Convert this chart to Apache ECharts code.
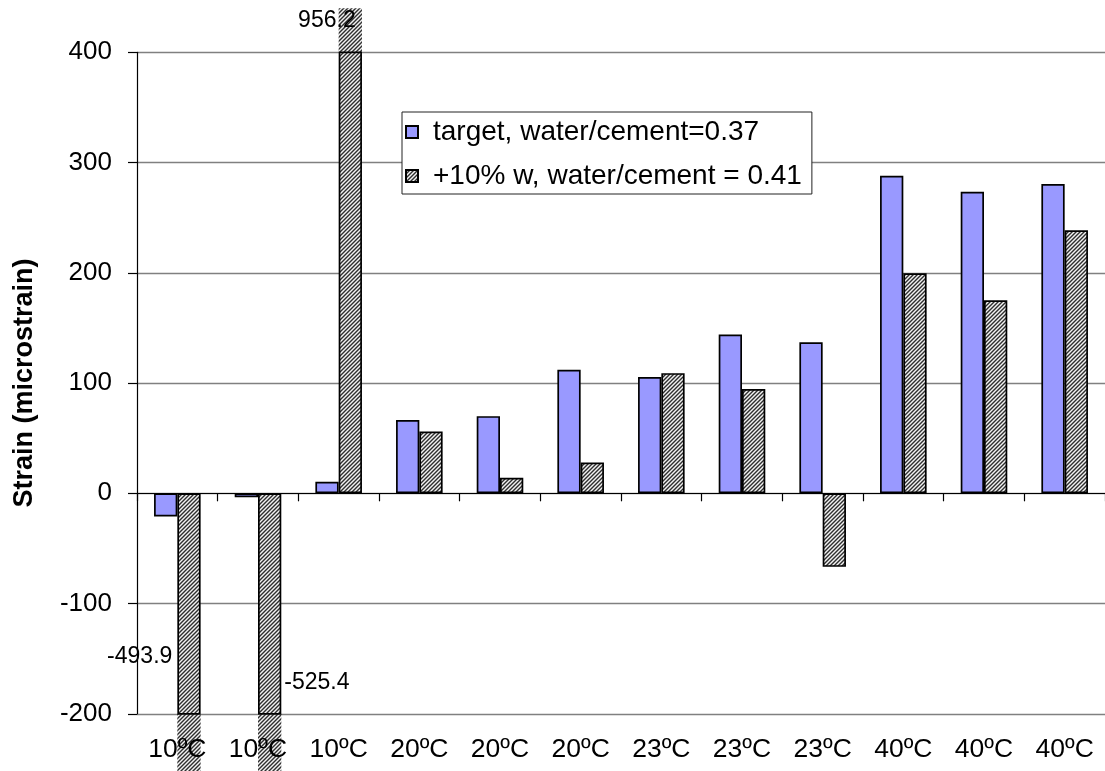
<!DOCTYPE html>
<html>
<head>
<meta charset="utf-8">
<title>Strain by curing temperature</title>
<script src="https://cdn.jsdelivr.net/npm/echarts@6/dist/echarts.min.js"></script>
<style>
  html, body { margin: 0; padding: 0; background: #ffffff; }
  #chart { width: 1105px; height: 771px; }
</style>
</head>
<body>
<div id="chart"></div>
<script>
// Curing temperature of each specimen
const categories = ['10ºC', '10ºC', '10ºC', '20ºC', '20ºC', '20ºC',
                    '23ºC', '23ºC', '23ºC', '40ºC', '40ºC', '40ºC'];

// Strain (microstrain), mix at target water/cement ratio
const targetStrain = [-21, -3.6, 10.5, 66.5, 70, 112, 105.5, 144, 137, 288, 273.5, 280.5];

// Strain (microstrain), mix with +10% water
const wetStrain = [-493.9, -525.4, 956.2, 56, 14, 28, 109, 94.5, -66.7, 199.5, 175, 238.5];

const seriesNames = ['target, water/cement=0.37', '+10% w, water/cement = 0.41'];

// Value axis range and step
const yMin = -200;
const yMax = 400;
const yStep = 100;

const FONT = '"Liberation Sans", Arial, sans-serif';
const BAR_WIDTH = 23.3;

// Diagonal "////" hatch used for the +10% water series
function makeHatch() {
  const c = document.createElement('canvas');
  c.width = 4; c.height = 4;
  const g = c.getContext('2d');
  g.fillStyle = '#f2f2f2';
  g.fillRect(0, 0, 4, 4);
  g.strokeStyle = '#2e2e2e';
  g.lineWidth = 1.4;
  g.beginPath();
  g.moveTo(0, 4); g.lineTo(4, 0);
  g.moveTo(-1, 1); g.lineTo(1, -1);
  g.moveTo(3, 5); g.lineTo(5, 3);
  g.stroke();
  return { image: c, repeat: 'repeat' };
}
const hatch = makeHatch();

// Where the value label of a bar running past the axis range sits
const overflowLabelPlacement = {
  0: { side: 'left', dy: -57 },
  1: { side: 'right', dy: -31 },
  2: { side: 'top', dy: -32 }
};

const chart = echarts.init(document.getElementById('chart'), null, { renderer: 'canvas' });

chart.setOption({
  animation: false,
  backgroundColor: '#ffffff',
  textStyle: { fontFamily: FONT },
  grid: { left: 137, right: -8, top: 52.3, bottom: 57.2, containLabel: false },
  legend: {
    data: seriesNames,
    orient: 'vertical',
    left: 402,
    top: 112,
    padding: [6, 10, 4, 3],
    itemGap: 16,
    itemWidth: 12,
    itemHeight: 12,
    icon: 'rect',
    backgroundColor: '#ffffff',
    borderColor: '#222222',
    borderWidth: 1,
    borderRadius: 0,
    textStyle: { fontFamily: FONT, fontSize: 28, color: '#000', padding: [0, 0, 0, 10] }
  },
  xAxis: [
    {
      // category labels along the bottom edge of the plot
      type: 'category',
      data: categories,
      position: 'bottom',
      axisLine: { show: false, onZero: false },
      axisTick: { show: false },
      splitLine: { show: false },
      axisLabel: { fontFamily: FONT, fontSize: 26.5, color: '#000', margin: 22, interval: 0 },
      z: 5
    },
    {
      // zero line with category separators
      type: 'category',
      data: categories,
      position: 'bottom',
      axisLine: { show: true, onZero: true, lineStyle: { color: '#000', width: 1.2 } },
      axisTick: { show: true, inside: false, length: 8, lineStyle: { color: '#000', width: 1.2 } },
      axisLabel: { show: false },
      splitLine: { show: false },
      z: 5
    }
  ],
  yAxis: {
    type: 'value',
    min: yMin,
    max: yMax,
    interval: yStep,
    name: 'Strain (microstrain)',
    nameLocation: 'middle',
    nameGap: 99,
    nameTextStyle: { fontFamily: FONT, fontSize: 27, fontWeight: 'bold', color: '#000' },
    axisLine: { show: true, lineStyle: { color: '#000', width: 1.2 } },
    axisTick: { show: true, inside: false, length: 9, lineStyle: { color: '#000', width: 1.2 } },
    axisLabel: { fontFamily: FONT, fontSize: 26, color: '#000', margin: 25 },
    splitLine: { show: true, lineStyle: { color: '#808080', width: 1.3 } }
  },
  series: [
    {
      name: seriesNames[0],
      type: 'bar',
      xAxisIndex: 0,
      data: targetStrain,
      barWidth: BAR_WIDTH,
      barGap: '0%',
      clip: true,
      itemStyle: { color: '#9999ff', borderColor: '#000', borderWidth: 1.7 },
      z: 2
    },
    {
      name: seriesNames[1],
      type: 'bar',
      xAxisIndex: 0,
      data: wetStrain,
      barWidth: BAR_WIDTH,
      barGap: '0%',
      clip: true,
      itemStyle: { color: hatch, borderColor: '#000', borderWidth: 1.7 },
      z: 2
    },
    {
      // part of a +10% water bar that runs past the value axis range, with its value
      type: 'custom',
      xAxisIndex: 0,
      data: wetStrain.map((v, i) => [i, v]),
      clip: false,
      silent: true,
      z: 1,
      renderItem: function (params, api) {
        const i = api.value(0);
        const v = api.value(1);
        if (v <= yMax && v >= yMin) return null;
        const up = v > yMax;
        const centre = api.coord([i, 0])[0];
        const edgeY = api.coord([i, up ? yMax : yMin])[1];
        const y0 = up ? edgeY - 44 : edgeY;
        const h = up ? 44 : api.getHeight() - edgeY;
        const place = overflowLabelPlacement[i] || { side: up ? 'top' : 'left', dy: up ? -32 : -40 };
        let tx, align;
        if (place.side === 'left') { tx = centre - 5; align = 'right'; }
        else if (place.side === 'right') { tx = centre + BAR_WIDTH + 3; align = 'left'; }
        else { tx = centre + 17; align = 'right'; }
        const ty = edgeY + place.dy;
        return {
          type: 'group',
          children: [
            { type: 'rect', shape: { x: centre, y: y0, width: BAR_WIDTH, height: h }, style: { fill: hatch } },
            {
              type: 'text',
              z2: 10,
              style: {
                text: v.toFixed(1), x: tx, y: ty, align: align, verticalAlign: 'middle',
                fill: '#000', font: '23px ' + FONT
              }
            }
          ]
        };
      }
    }
  ]
});
</script>
</body>
</html>
